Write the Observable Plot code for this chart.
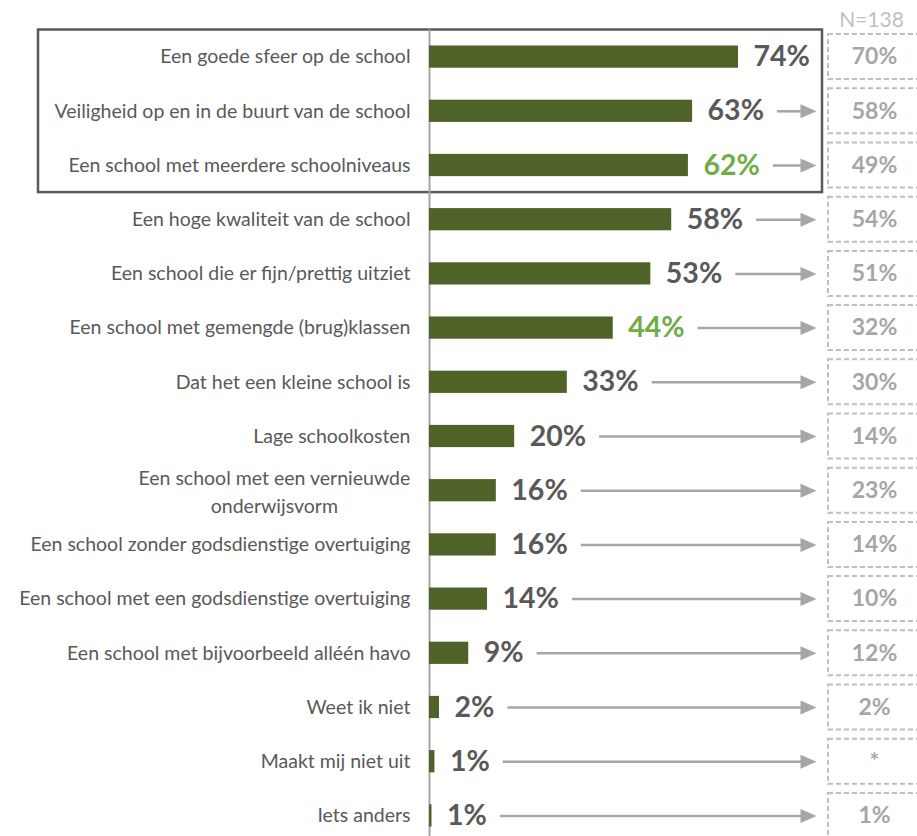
<!DOCTYPE html>
<html>
<head>
<meta charset="utf-8">
<script src="https://cdn.jsdelivr.net/npm/d3@7"></script>
<script src="https://cdn.jsdelivr.net/npm/@observablehq/plot@0.6"></script>
<style>
  html, body { margin: 0; padding: 0; background: #fff; overflow: hidden; }
  #chart svg { overflow: hidden; }
</style>
</head>
<body>
<div id="chart"></div>
<script>
// ---- data ----
const categories = [
  "Een goede sfeer op de school",
  "Veiligheid op en in de buurt van de school",
  "Een school met meerdere schoolniveaus",
  "Een hoge kwaliteit van de school",
  "Een school die er fijn/prettig uitziet",
  "Een school met gemengde (brug)klassen",
  "Dat het een kleine school is",
  "Lage schoolkosten",
  "Een school met een vernieuwde\nonderwijsvorm",
  "Een school zonder godsdienstige overtuiging",
  "Een school met een godsdienstige overtuiging",
  "Een school met bijvoorbeeld alléén havo",
  "Weet ik niet",
  "Maakt mij niet uit",
  "Iets anders"
];
const values = [74, 63, 62, 58, 53, 44, 33, 20.4, 16, 16, 13.9, 9.4, 2.4, 1.3, 0.6];
const previous = [70, 58, 49, 54, 51, 32, 30, 14, 23, 14, 10, 12, 2, null, 1];
const significant = ["Een school met meerdere schoolniveaus", "Een school met gemengde (brug)klassen"];
const boxedCount = 3;   // top three rows are framed
const sampleLabel = "N=138";

// ---- layout ----
const W = 917, H = 836;
const axisX = 429;            // pixel of 0%
const pxPerPct = 4.176;
const k = pxPerPct;
const xMax = (W - axisX) / k;
const px = p => (p - axisX) / k;   // pixel -> data units

const valueSize = 28.5;
const labelFont = `bold ${valueSize}px Lato`;
const catSize = 19.5;
const catFont = `${catSize}px Lato`;
const canvas = document.createElement("canvas");
const ctx = canvas.getContext("2d");
function textWidth(s, font) { ctx.font = font; return ctx.measureText(s).width; }

const rows = categories.map((cat, i) => ({
  i, cat, value: values[i], prev: previous[i],
  label: Math.round(values[i]) + "%",
  prevLabel: previous[i] == null ? "*" : previous[i] + "%",
  sig: significant.includes(cat)
}));

const tip = px(816);
const arrows = rows.map(d => {
  const start = d.value + (15 + textWidth(d.label, labelFont) + 13) / k;
  return {...d, x1: start};
}).filter(d => d.x1 < tip - 20 / k);

const arrowHead = {
  draw(c) { c.moveTo(0, 0); c.lineTo(-16, -7); c.lineTo(-16, 7); c.closePath(); }
};

const singleRows = rows.filter(d => !d.cat.includes("\n"));
const multiRows = rows.filter(d => d.cat.includes("\n"));
const multiW = d => textWidth(d.cat.split("\n")[0], catFont);

const chart = Plot.plot({
  width: W, height: H,
  marginLeft: axisX, marginRight: 0, marginTop: 0, marginBottom: 0,
  x: {domain: [0, xMax], axis: null},
  y: {domain: [-0.5, 14.5], range: [29.5, 842.5], axis: null},
  style: {fontFamily: "Lato, sans-serif", background: "#fff"},
  marks: [
    // framed top group
    Plot.rect([0], {x1: px(38), x2: px(822), y1: -0.5, y2: boxedCount - 0.5,
      fill: "none", stroke: "#595959", strokeWidth: 2.5}),
    // axis line
    Plot.ruleX([0], {y1: -0.5, y2: 14.7, stroke: "#A6A6A6", strokeWidth: 2}),
    // bars
    Plot.rectX(rows, {x1: 0, x2: "value", y1: d => d.i - 0.205, y2: d => d.i + 0.205, fill: "#4F6228"}),
    // value labels
    Plot.text(rows, {x: "value", y: "i", dx: 15, text: "label", textAnchor: "start",
      fontSize: valueSize, fontWeight: "bold", fill: d => d.sig ? "#70AD47" : "#595959"}),
    // category labels
    Plot.text(singleRows, {x: 0, y: "i", dx: -19, text: "cat", textAnchor: "end",
      fontSize: catSize, fill: "#595959"}),
    Plot.text(multiRows, {x: d => px(axisX - 19 - multiW(d) / 2), y: "i", dy: -1, text: "cat", textAnchor: "middle",
      fontSize: catSize, lineHeight: 1.44, fill: "#595959"}),
    // arrows
    Plot.link(arrows, {x1: "x1", x2: tip - 14 / k, y1: "i", y2: "i", stroke: "#A6A6A6", strokeWidth: 2.5}),
    Plot.dot(arrows, {x: tip, y: "i", symbol: arrowHead, fill: "#A6A6A6", stroke: "none", r: 7}),
    // previous boxes
    Plot.rect(rows, {x1: px(828), x2: px(940), y1: d => d.i - 0.415, y2: d => d.i + 0.415,
      fill: "none", stroke: "#BFBFBF", strokeWidth: 2, strokeDasharray: "5,3"}),
    Plot.text(rows, {x: px(874), y: "i", text: "prevLabel", fontSize: 23, fontWeight: "bold",
      fill: "#A6A6A6", textAnchor: "middle"}),
    // N label
    Plot.text([sampleLabel], {x: px(871), y: -0.5, dy: -10, text: d => d, fontSize: 21,
      fill: "#BFBFBF", textAnchor: "middle"})
  ]
});
document.getElementById("chart").appendChild(chart);
</script>
</body>
</html>
